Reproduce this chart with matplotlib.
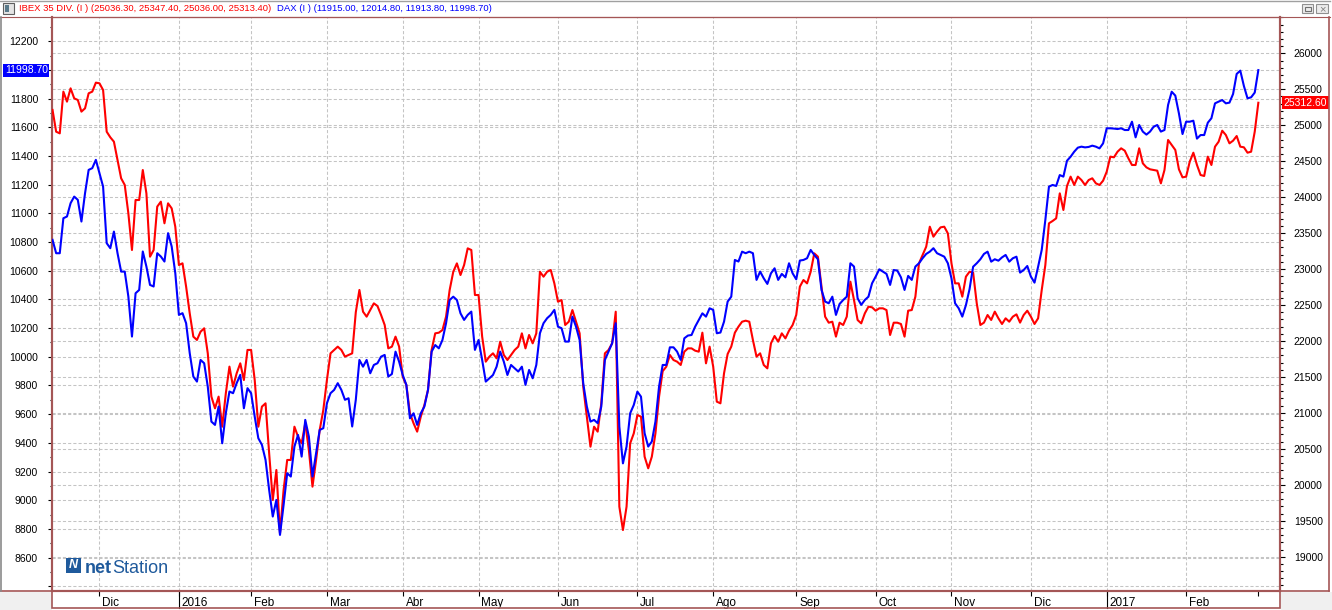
# -*- coding: utf-8 -*-
"""
IBEX 35 DIV. against DAX, daily closes Nov 2015 - Mar 2017,
drawn like a netStation chart window.
"""

import numpy as np
import pandas as pd
import matplotlib
matplotlib.use('Agg')
import matplotlib.pyplot as plt
from matplotlib.lines import Line2D
from matplotlib.patches import Rectangle
from matplotlib.ticker import FixedLocator, MultipleLocator
import matplotlib.transforms as mtransforms

plt.rcParams['font.family'] = ['Liberation Sans', 'DejaVu Sans']

# ---------------------------------------------------------------- data
first_day = '2015-11-12'
last_day = '2017-03-01'
holidays = ['2015-12-25', '2016-01-01', '2016-03-25', '2016-03-28',
            '2016-12-26']
month_labels = ['Ene', 'Feb', 'Mar', 'Abr', 'May', 'Jun', 'Jul', 'Ago',
                'Sep', 'Oct', 'Nov', 'Dic']

# DAX daily close (left axis)
dax = [
    10815, 10722, 10722, 10966, 10978, 11071, 11117, 11094, 10943, 11140,
    11303, 11315, 11373, 11280, 11187, 10792, 10757, 10873, 10722, 10594,
    10594, 10420, 10141, 10443, 10466, 10734, 10629, 10501, 10490, 10722,
    10699, 10664, 10862, 10769, 10583, 10292, 10304, 10234, 10025, 9862,
    9827, 9978, 9955, 9792, 9548, 9525, 9653, 9397, 9607, 9758,
    9746, 9816, 9874, 9641, 9781, 9746, 9583, 9432, 9386, 9281,
    9072, 8886, 9002, 8758, 8967, 9188, 9165, 9374, 9455, 9304,
    9560, 9444, 9165, 9328, 9490, 9502, 9676, 9746, 9769, 9816,
    9769, 9700, 9711, 9514, 9700, 9978, 9931, 9978, 9885, 9943,
    9955, 10001, 10013, 9862, 9880, 10036, 9966, 9873, 9804, 9571,
    9606, 9525, 9606, 9653, 9769, 10036, 10082, 10059, 10117, 10234,
    10396, 10419, 10396, 10303, 10257, 10292, 10315, 10048, 10117, 9978,
    9827, 9850, 9873, 9931, 10036, 9966, 9873, 9943, 9920, 9897,
    9931, 9804, 9908, 9850, 9943, 10164, 10234, 10269, 10292, 10327,
    10210, 10199, 10106, 10106, 10280, 10210, 10117, 9815, 9653, 9548,
    9560, 9537, 9653, 9978, 10036, 10094, 10234, 9513, 9257, 9374,
    9606, 9664, 9757, 9722, 9467, 9374, 9409, 9548, 9792, 9943,
    9943, 10066, 10066, 10036, 9978, 10129, 10148, 10152, 10210, 10257,
    10303, 10280, 10338, 10327, 10164, 10169, 10245, 10385, 10419, 10675,
    10664, 10733, 10722, 10733, 10722, 10536, 10594, 10547, 10508, 10582,
    10617, 10536, 10578, 10554, 10652, 10582, 10540, 10671, 10675, 10687,
    10745, 10710, 10680, 10466, 10385, 10373, 10419, 10292, 10368, 10396,
    10419, 10652, 10629, 10408, 10362, 10396, 10419, 10512, 10559, 10610,
    10594, 10578, 10501, 10605, 10601, 10554, 10466, 10564, 10536, 10629,
    10652, 10687, 10717, 10733, 10757, 10722, 10710, 10698, 10652, 10547,
    10373, 10338, 10280, 10360, 10471, 10628, 10652, 10680, 10717, 10733,
    10663, 10680, 10670, 10693, 10710, 10663, 10687, 10698, 10587, 10605,
    10633, 10559, 10517, 10628, 10745, 10954, 11186, 11198, 11191, 11267,
    11256, 11367, 11395, 11430, 11458, 11465, 11460, 11463, 11472, 11465,
    11453, 11488, 11593, 11593, 11591, 11588, 11593, 11581, 11581, 11639,
    11530, 11616, 11570, 11549, 11570, 11604, 11616, 11570, 11581, 11756,
    11848, 11821, 11697, 11553, 11639, 11639, 11646, 11521, 11546, 11546,
    11632, 11663, 11767, 11779, 11790, 11767, 11772, 11832, 11972, 11995,
    11888, 11802, 11809, 11842, 11998.70,
]

# IBEX 35 dividend index daily close (right axis)
ibex = [
    25212, 24910, 24887, 25467, 25328, 25513, 25374, 25351, 25189, 25235,
    25444, 25467, 25592, 25583, 25490, 24910, 24832, 24771, 24516, 24262,
    24169, 23775, 23265, 23960, 23960, 24377, 24053, 23172, 23265, 23868,
    23937, 23636, 23914, 23844, 23589, 23056, 23080, 22755, 22384, 22060,
    22014, 22129, 22176, 21828, 21226, 21063, 21226, 20808, 21272, 21643,
    21365, 21550, 21689, 21457, 21875, 21875, 21457, 20808, 21087, 21133,
    20438, 19789, 20206, 19325, 19928, 20345, 20345, 20808, 20669, 20577,
    20855, 20484, 19974, 20345, 20762, 21040, 21457, 21828, 21875, 21921,
    21875, 21782, 21805, 21828, 22400, 22709, 22407, 22338, 22430, 22523,
    22486, 22361, 22222, 21897, 21921, 22060, 21921, 21503, 21388, 20994,
    20855, 20739, 20947, 21109, 21318, 21874, 22106, 22115, 22152, 22338,
    22709, 22963, 23079, 22917, 23056, 23288, 23265, 22639, 22639, 22060,
    21712, 21782, 21828, 21758, 21990, 21805, 21735, 21805, 21874, 21921,
    22106, 21897, 22083, 21967, 22106, 22963, 22894, 22963, 22987, 22801,
    22546, 22569, 22222, 22268, 22430, 22268, 22106, 21364, 20947, 20530,
    20808, 20739, 21133, 21828, 21874, 21967, 22407, 19696, 19371, 19696,
    20576, 20715, 20970, 20947, 20391, 20229, 20391, 20715, 21225, 21580,
    21642, 21805, 21735, 21712, 21666, 21851, 21897, 21897, 21865, 21851,
    22115, 21689, 21921, 21642, 21156, 21133, 21550, 21819, 21921, 22115,
    22199, 22268, 22282, 22268, 22013, 21782, 21828, 21666, 21619, 21967,
    22069, 21990, 22106, 22036, 22143, 22222, 22361, 22755, 22848, 22801,
    22963, 23218, 23172, 22755, 22338, 22254, 22268, 22060, 22254, 22222,
    22338, 22824, 22569, 22291, 22245, 22384, 22477, 22468, 22421, 22454,
    22454, 22430, 22083, 22254, 22254, 22236, 22060, 22421, 22430, 22616,
    23079, 23195, 23311, 23589, 23450, 23520, 23580, 23589, 23496, 23079,
    22801, 22801, 22616, 22894, 22963, 22950, 22523, 22222, 22255, 22361,
    22292, 22408, 22315, 22236, 22315, 22268, 22338, 22370, 22255, 22361,
    22421, 22338, 22236, 22315, 22709, 23056, 23636, 23668, 23705, 24053,
    23821, 24155, 24285, 24169, 24285, 24238, 24169, 24238, 24262, 24192,
    24169, 24229, 24354, 24563, 24554, 24632, 24679, 24646, 24540, 24447,
    24447, 24679, 24470, 24414, 24387, 24377, 24368, 24192, 24377, 24795,
    24725, 24656, 24387, 24275, 24285, 24493, 24618, 24447, 24308, 24294,
    24563, 24447, 24702, 24771, 24924, 24864, 24748, 24785, 24850, 24702,
    24693, 24618, 24632, 24910, 25312.60,
]

ibex_title = 'IBEX 35 DIV. (I ) (25036.30, 25347.40, 25036.00, 25313.40)'
dax_title = 'DAX (I ) (11915.00, 12014.80, 11913.80, 11998.70)'

# trading-day calendar, one slot per session
dates = pd.bdate_range(first_day, last_day)
dates = dates[~dates.isin(pd.to_datetime(holidays))][:len(dax)]
x = np.arange(len(dates))

month_start = [i for i in range(1, len(dates))
               if dates[i].month != dates[i - 1].month]
tick_text = [str(dates[i].year) if dates[i].month == 1
             else month_labels[dates[i].month - 1] for i in month_start]
year_start = [i for i in month_start if dates[i].month == 1]

# ---------------------------------------------------------------- figure
W, H = 1332, 610
fig = plt.figure(figsize=(W / 100, H / 100), dpi=100)
fig.patch.set_facecolor('white')


def fx(px):
    return px / W


def fy(py):
    return 1 - py / H


maroon = '#a45656'
grid_kw = dict(color='#c4c4c4', linestyle=(0, (3, 2)), linewidth=0.75)

ax = fig.add_axes([fx(52), fy(591), fx(1280) - fx(52), fy(17) - fy(591)])
ax.set_xlim(-0.15, 340)
ax.set_ylim(8367, 12369)
ax2 = ax.twinx()
ax2.set_ylim(18523, 26505)

# x axis: months, with the year at January
ax.set_xticks(month_start[:-1])
ax.set_xticklabels(tick_text[:-1])
ax.xaxis.set_minor_locator(FixedLocator(month_start))
ax.tick_params(axis='x', which='both', length=3.5, width=0.8,
               color='black', pad=0.5, labelsize=8.5)
shift = mtransforms.ScaledTranslation(2 / 72, 0, fig.dpi_scale_trans)
for lbl in ax.get_xticklabels():
    lbl.set_horizontalalignment('left')
    lbl.set_transform(lbl.get_transform() + shift)
for i in year_start:
    ax.plot([i, i], [0, -17 / 574], transform=ax.get_xaxis_transform(),
            clip_on=False, color='black', lw=0.8)

# left axis (DAX); 8400 and 12000 stay unlabelled (12000 sits
# under the last-value box)
left_ticks = np.arange(8400, 12201, 200)
ax.set_yticks(left_ticks)
ax.set_yticklabels(['' if v in (8400, 12000) else str(v)
                    for v in left_ticks])
ax.yaxis.set_minor_locator(MultipleLocator(100))
ax.tick_params(axis='y', which='major', length=3, width=0.8,
               color='black', pad=7, labelsize=7.5)
ax.tick_params(axis='y', which='minor', length=1.8, width=0.8,
               color='black')

# right axis (IBEX)
ax2.set_yticks(np.arange(19000, 26001, 500))
ax2.yaxis.set_minor_locator(MultipleLocator(100))
ax2.tick_params(axis='y', which='major', length=3.5, width=0.8,
                color='black', pad=6.5, labelsize=7.5)
ax2.tick_params(axis='y', which='minor', length=1.8, width=0.8,
                color='black')

ax.grid(True, axis='both', which='major', **grid_kw)
ax2.grid(True, axis='y', which='major', **grid_kw)

for a in (ax, ax2):
    for side in ['left', 'right', 'bottom']:
        a.spines[side].set_color(maroon)
        a.spines[side].set_linewidth(1.5)
    a.spines['top'].set_color(maroon)
    a.spines['top'].set_linewidth(0.8)

# the two series, each on its own scale, above the grids
ax_red = ax.twinx()
ax_red.set_ylim(ax2.get_ylim())
ax_red.axis('off')
ax_red.plot(x, ibex, color='#ff0000', lw=1.5)

ax_blue = ax.twinx()
ax_blue.set_ylim(ax.get_ylim())
ax_blue.axis('off')
ax_blue.plot(x, dax, color='#0000ff', lw=1.5)

# last value boxes on both axes
ax.annotate(f'{dax[-1]:.2f}', xy=(0, dax[-1]),
            xycoords=('axes fraction', 'data'), xytext=(-3, 0),
            textcoords='offset points', ha='right', va='center',
            color='white', fontsize=7.5, annotation_clip=False,
            bbox=dict(boxstyle='square,pad=0.15', fc='#0000ff', ec='none'))
ax2.annotate(f'{ibex[-1]:.2f}', xy=(1, ibex[-1]),
             xycoords=('axes fraction', 'data'), xytext=(2.5, 0),
             textcoords='offset points', ha='left', va='center',
             color='white', fontsize=7.5, annotation_clip=False,
             bbox=dict(boxstyle='square,pad=0.15', fc='#ff0000', ec='none'))

# ---------------------------------------------------------------- window frame
def fig_line(xs, ys, color, lw=1.0):
    fig.add_artist(Line2D([fx(v) for v in xs], [fy(v) for v in ys],
                          transform=fig.transFigure, color=color, lw=lw))


def fig_rect(x0, y0, x1, y1, **kw):
    fig.add_artist(Rectangle((fx(x0), fy(y1)), fx(x1) - fx(x0),
                             fy(y0) - fy(y1), transform=fig.transFigure,
                             **kw))


fig_rect(0, 592, 52, 610, fc='#f0f0f0', ec='none')
fig_rect(1281, 592, 1332, 610, fc='#f0f0f0', ec='none')
fig_rect(52, 591, 1280, 608, fill=False, ec=maroon, lw=1.2)
fig_line([0, 1330], [0.5, 0.5], '#a0a0a0')
fig_line([0, 1330], [17, 17], maroon, 0.8)
fig_line([1329, 1329], [17, 591], maroon, 1.2)
fig_line([0, 52], [591, 591], maroon, 1.2)
fig_line([1280, 1329], [591, 591], maroon, 1.2)
fig_line([0.8, 0.8], [17, 591], '#8a8a8a', 1.2)

# title bar icon, legend texts and window buttons
fig_rect(3, 3, 14, 14, fc='#e4e4e4', ec='#606060', lw=0.8)
fig_rect(5, 5, 9, 12, fc='#5a7a8a', ec='none')
fig.text(fx(19), fy(8.5), ibex_title, color='#ff0000', fontsize=6.8,
         va='center')
fig.text(fx(277), fy(8.5), dax_title, color='#0000ff', fontsize=6.8,
         va='center')
fig_rect(1302, 4, 1313, 13, fc='#ececec', ec='#909090', lw=0.8)
fig_rect(1304.5, 7, 1310.5, 11, fill=False, ec='#707070', lw=0.8)
fig_rect(1316, 4, 1328, 13, fc='#ececec', ec='#909090', lw=0.8)
fig.text(fx(1322), fy(8.8), '\u00d7', color='#808080', fontsize=8,
         ha='center', va='center')

# netStation logo
fig_rect(66, 558, 81, 573, fc='#1f5a9c', ec='none')
fig.text(fx(73.5), fy(565.5), 'N', color='white', fontsize=9,
         fontweight='bold', fontstyle='italic', ha='center', va='center')
fig.text(fx(85), fy(573), 'net', color='#1f5a9c', fontsize=13,
         fontweight='bold', va='baseline')
fig.text(fx(112), fy(573), 'Station', color='#1f5a9c', fontsize=13,
         va='baseline')

plt.savefig('out.png', dpi=100)
